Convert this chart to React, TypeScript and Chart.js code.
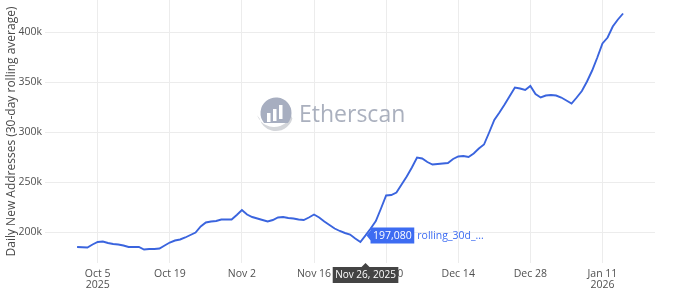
import React, { useEffect, useRef } from "react";
import { Chart, registerables } from "chart.js";

Chart.register(...registerables);

// Daily values from Oct 1, 2025 (index 0) to Jan 15, 2026 (index 106), in thousands
const dailyValuesK = [
  185.5, 185.2, 185, 188, 190.5, 191, 189.5, 188.5, 188, 187,
  185.5, 185.5, 185.5, 183, 183.5, 183.5, 184, 187, 190, 192,
  193, 195, 197.5, 200, 206, 210, 211, 211.5, 213, 213,
  213, 217.5, 222.5, 218, 215.5, 214, 212.5, 211, 212.5, 215,
  215.5, 214.5, 214, 213, 212.5, 215, 218, 215, 211, 207.5,
  204, 201.5, 199.5, 198, 194, 190.5, 197.08, 204, 211.5, 224,
  237, 237.5, 240, 248, 256, 265, 275, 274, 270.5, 268,
  268.5, 269, 269.5, 273.5, 276, 276.5, 275.5, 279, 284, 288,
  300, 312.5, 320, 328, 336.5, 345, 344, 342.5, 346.5, 338.5,
  335, 337, 337.5, 337, 335, 332, 329, 335, 341.5, 351,
  362, 375, 389, 395, 406, 413, 419,
];
const values = dailyValuesK.map((v) => Math.round(v * 1000));

const xTickIndex = [4, 18, 32, 46, 60, 74, 88, 102];
const xTickLabels: (string | string[])[] = [
  ["Oct 5", "2025"], "Oct 19", "Nov 2", "Nov 16", "Nov 30", "Dec 14", "Dec 28", ["Jan 11", "2026"],
];
const yTickValues = [200000, 250000, 300000, 350000, 400000];
const yTickLabels = ["200k", "250k", "300k", "350k", "400k"];

const yTitle = "Daily New Addresses (30-day rolling average)";
const hoverIndex = 56;
const hoverDateLabel = "Nov 26, 2025";
const hoverValueLabel = "197,080";
const seriesName = "rolling_30d_...";
const watermarkText = "Etherscan";

const X_MIN = -6.23;
const X_MAX = 112.2;
const Y_MIN = 169500;
const Y_MAX = 432500;

const FONT = "'Open Sans', 'Noto Sans', sans-serif";
const LINE_COLOR = "#3a64de";
const HOVER_BLUE = "#3d6cf2";

const watermarkPlugin = {
  id: "watermark",
  beforeDatasetsDraw(chart: any) {
    const { ctx, chartArea } = chart;
    const cx = chartArea.left + 231;
    const cy = chartArea.top + 114;
    ctx.save();
    // crescent
    ctx.beginPath();
    ctx.arc(cx, cy, 17, (15 * Math.PI) / 180, (165 * Math.PI) / 180);
    ctx.arc(cx - 2, cy - 5, 18, (160 * Math.PI) / 180, (20 * Math.PI) / 180, true);
    ctx.closePath();
    ctx.fillStyle = "#d4d6da";
    ctx.fill();
    // main circle
    ctx.beginPath();
    ctx.arc(cx, cy - 1, 15.5, Math.PI * 0.78, Math.PI * 2.22);
    ctx.closePath();
    ctx.fillStyle = "#a7aec0";
    ctx.fill();
    // bars
    ctx.fillStyle = "#ffffff";
    ctx.fillRect(cx - 9, cy - 1, 3.5, 9);
    ctx.fillRect(cx - 3, cy - 5, 3.5, 12);
    ctx.fillRect(cx + 3, cy - 9, 3.5, 14);
    // text
    ctx.font = `400 23px ${FONT}`;
    ctx.fillStyle = "#aab0be";
    ctx.textBaseline = "alphabetic";
    ctx.textAlign = "left";
    ctx.direction = "ltr";
    ctx.fillText(watermarkText, cx + 23, cy + 8);
    ctx.restore();
  },
};

const hoverPlugin = {
  id: "hoverLabel",
  afterDraw(chart: any) {
    const { ctx } = chart;
    const xs = chart.scales.x;
    const ys = chart.scales.y;
    const px = xs.getPixelForValue(hoverIndex);
    const py = ys.getPixelForValue(values[hoverIndex]);
    ctx.save();
    ctx.font = `10.5px ${FONT}`;
    ctx.textBaseline = "middle";
    // value label
    const tw = ctx.measureText(hoverValueLabel).width;
    const bx = px + 5;
    const bh = 16;
    ctx.beginPath();
    ctx.moveTo(px + 1, py);
    ctx.lineTo(bx, py - 5);
    ctx.lineTo(bx, py - bh / 2);
    ctx.lineTo(bx + tw + 5, py - bh / 2);
    ctx.lineTo(bx + tw + 5, py + bh / 2);
    ctx.lineTo(bx, py + bh / 2);
    ctx.lineTo(bx, py + 5);
    ctx.closePath();
    ctx.fillStyle = HOVER_BLUE;
    ctx.fill();
    ctx.fillStyle = "#ffffff";
    ctx.textAlign = "left";
    ctx.fillText(hoverValueLabel, bx + 2.5, py + 0.5);
    ctx.fillStyle = HOVER_BLUE;
    ctx.fillText(seriesName, bx + tw + 8, py + 0.5);
    // x label
    ctx.font = `10px ${FONT}`;
    const dw = ctx.measureText(hoverDateLabel).width + 5;
    const top = chart.chartArea.bottom + 4;
    const dh = 16;
    ctx.beginPath();
    ctx.moveTo(px, top - 4);
    ctx.lineTo(px + 4, top);
    ctx.lineTo(px + dw / 2, top);
    ctx.lineTo(px + dw / 2, top + dh);
    ctx.lineTo(px - dw / 2, top + dh);
    ctx.lineTo(px - dw / 2, top);
    ctx.lineTo(px - 4, top);
    ctx.closePath();
    ctx.fillStyle = "#444444";
    ctx.fill();
    ctx.fillStyle = "#ffffff";
    ctx.textAlign = "center";
    ctx.fillText(hoverDateLabel, px, top + dh / 2 + 0.5);
    ctx.restore();
  },
};

export default function App() {
  const canvasRef = useRef<HTMLCanvasElement | null>(null);

  useEffect(() => {
    document.body.style.margin = "0";
    const canvas = canvasRef.current;
    if (!canvas) return;
    const tickFont = { family: FONT, size: 10.5, lineHeight: 1.1 };
    const chart = new Chart(canvas, {
      type: "line",
      data: {
        datasets: [
          {
            label: "rolling_30d_avg",
            data: values.map((v, i) => ({ x: i, y: v })),
            borderColor: LINE_COLOR,
            borderWidth: 1.9,
            pointRadius: 0,
            tension: 0,
            fill: false,
          },
        ],
      },
      options: {
        animation: false,
        responsive: false,
        layout: { padding: { left: 0, right: 24, top: 0, bottom: 0 } },
        plugins: { legend: { display: false }, tooltip: { enabled: false } },
        scales: {
          x: {
            type: "linear",
            min: X_MIN,
            max: X_MAX,
            border: { display: false },
            grid: { color: "#ececec", drawTicks: false },
            ticks: {
              padding: 5,
              color: "#505050",
              font: tickFont,
              autoSkip: false,
              maxRotation: 0,
              callback: (_v: any, i: number) => xTickLabels[i],
            },
            afterBuildTicks: (s: any) => {
              s.ticks = xTickIndex.map((v) => ({ value: v }));
            },
            afterFit: (s: any) => {
              s.height = 36;
              s.paddingLeft = 0;
              s.paddingRight = 0;
            },
          },
          y: {
            type: "linear",
            min: Y_MIN,
            max: Y_MAX,
            border: { display: false },
            grid: { color: "#ececec", drawTicks: false },
            ticks: {
              padding: 3,
              color: "#505050",
              font: tickFont,
              callback: (_v: any, i: number) => yTickLabels[i],
            },
            afterBuildTicks: (s: any) => {
              s.ticks = yTickValues.map((v) => ({ value: v }));
            },
            afterFit: (s: any) => {
              s.width = 45;
              s.paddingTop = 0;
              s.paddingBottom = 0;
            },
            title: {
              display: true,
              text: yTitle,
              color: "#4a4a4a",
              font: { family: FONT, size: 12 },
              padding: { top: 4, bottom: 0 },
            },
          },
        },
      },
      plugins: [watermarkPlugin, hoverPlugin],
    } as any);
    return () => chart.destroy();
  }, []);

  return (
    <div style={{ width: 679, height: 299 }}>
      <canvas ref={canvasRef} width={679} height={299} />
    </div>
  );
}
